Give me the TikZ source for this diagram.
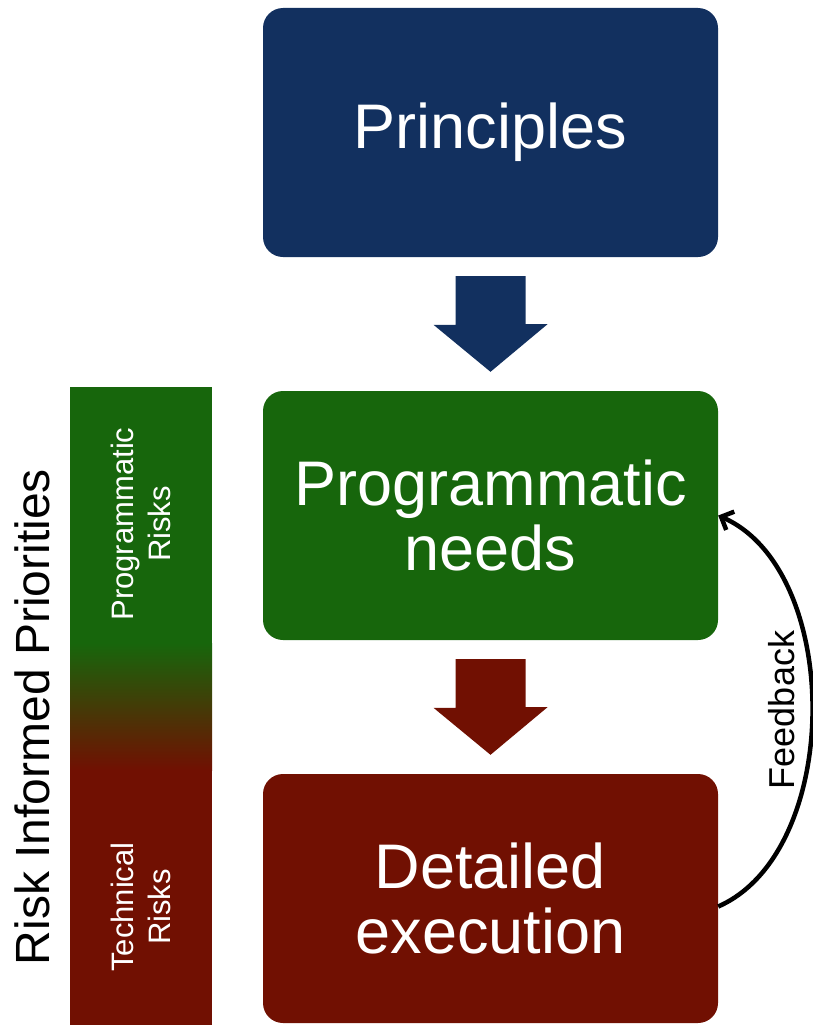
\documentclass[tikz,border=0pt]{standalone}
\usepackage{fontspec}
\setmainfont{Liberation Sans}
\usepackage{xcolor}
\usepackage{tikz}
\usetikzlibrary{arrows.meta}

\definecolor{prinblue}{HTML}{12305F}
\definecolor{proggreen}{HTML}{17660C}
\definecolor{techred}{HTML}{711002}

\begin{document}
\begin{tikzpicture}[
    x=1pt, y=-1pt,
    stage/.style={rectangle, rounded corners=20pt, minimum width=455pt,
                minimum height=249pt, inner sep=0pt, text=white, align=center,
                font=\fontsize{63}{65}\selectfont},
    risk/.style={rotate=90, text=white, align=center, inner sep=0pt,
                font=\fontsize{31}{37}\selectfont},
    fb/.style={-{Straight Barb[length=10pt, width=20pt]}, line width=4.5pt},
]
\useasboundingbox (0,0) rectangle (813,1025);

\node[stage, fill=prinblue]   (prin) at (490.5,132.5) {Principles};
\node[stage, fill=proggreen]  (prog) at (490.5,515.5) {Programmatic\\needs};
\node[stage, fill=techred]    (det)  at (490.5,898.5) {Detailed\\execution};

% block arrows between the stages
\fill[prinblue] ([xshift=-35pt, yshift=-19pt]prin.south) -- ++(70,0) -- ++(0,48)
    -- ++(22,0) -- ([yshift=19pt]prog.north) -- ++(-57,-47) -- ++(22,0) -- cycle;
\fill[techred] ([xshift=-35pt, yshift=-19pt]prog.south) -- ++(70,0) -- ++(0,48)
    -- ++(22,0) -- ([yshift=19pt]det.north) -- ++(-57,-47) -- ++(22,0) -- cycle;

% risk bar
\fill[proggreen] (70,387) rectangle (212,643.5);
\fill[top color=proggreen, bottom color=techred] (70,643) rectangle (212,770.5);
\fill[techred] (70,770) rectangle (212,1025);

\node[risk] (progrisk) at (141,524) {Programmatic\\Risks};
\node[risk] (techrisk) at (141,907) {Technical\\Risks};
\node[rotate=90, inner sep=0pt, font=\fontsize{48}{50}\selectfont] (rip) at (32.5,717)
    {Risk Informed Priorities};

% feedback loop
\draw[fb] ([yshift=-8pt]det.east) .. controls +(125,-55) and +(125,55) .. (prog.east);
\node[rotate=90, inner sep=0pt, font=\fontsize{36}{38}\selectfont] (fblabel) at (782,710)
    {Feedback};
\end{tikzpicture}
\end{document}
